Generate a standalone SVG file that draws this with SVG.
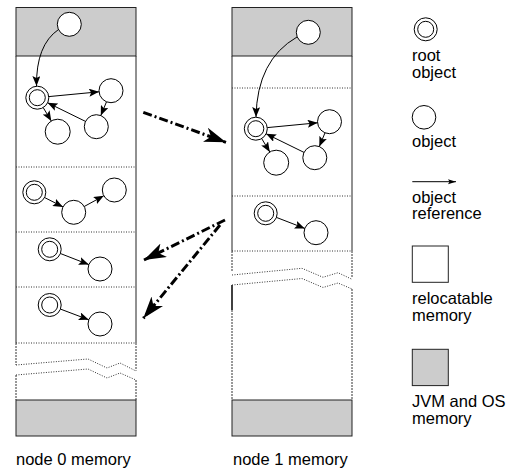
<svg xmlns="http://www.w3.org/2000/svg" width="515" height="471" viewBox="0 0 515 471">
<defs>
<style>
.gray{fill:#cccccc;stroke:#222;stroke-width:1}
.wall{stroke:#222;stroke-width:1;fill:none}
.dwall{stroke:#333;stroke-width:1;stroke-dasharray:2 1;fill:none}
.sep{stroke:#333;stroke-width:1;stroke-dasharray:1 1.5;fill:none}
.obj{fill:#fff;stroke:#000;stroke-width:1}
.ref{stroke:#000;stroke-width:1;fill:none;marker-end:url(#ah)}
.mig{stroke:#000;stroke-width:3;fill:none;stroke-dasharray:9 3 2 3;marker-end:url(#big)}
.t{font-family:"Liberation Sans",Arial,sans-serif;font-size:16.5px;fill:#000}
</style>
<marker id="ah" markerUnits="userSpaceOnUse" markerWidth="10" markerHeight="8" viewBox="0 0 10 8" refX="10" refY="4" orient="auto">
<path d="M0,0 L10,4 L0,8 L2,4 z" fill="#000"/>
</marker>
<marker id="ahs" markerUnits="userSpaceOnUse" markerWidth="8" markerHeight="6" viewBox="0 0 8 6" refX="8" refY="3" orient="auto">
<path d="M0,0.5 L8,3 L0,5.5 L1.5,3 z" fill="#000"/>
</marker>
<marker id="big" markerUnits="userSpaceOnUse" markerWidth="22" markerHeight="15" viewBox="0 0 22 15" refX="22" refY="7.5" orient="auto">
<path d="M0,0 L22,7.5 L0,15 L6,7.5 z" fill="#000"/>
</marker>
</defs>
<rect width="515" height="471" fill="#fff"/>

<g id="node0-memory">
<rect class="gray" x="16" y="7.5" width="120" height="48.5"/>
<rect class="gray" x="16" y="400" width="120" height="36"/>
<path class="wall" d="M16,56 V343 M136,56 V343"/>
<path class="dwall" d="M16,343 V365 M16,375 V400 M136,343 V370.7 M136,380 V400"/>
<path class="sep" d="M16,167 H136 M16,232 H136 M16,287 H136 M16,343 H136"/>
<polyline class="sep" points="16,365 88,359 107,368 120,363 136,371"/>
<polyline class="sep" points="16,375 88,369 107,378 120,373 136,380"/>
<text class="t" x="16" y="465">node 0 memory</text>
</g>

<g id="node1-memory">
<rect class="gray" x="232" y="7.5" width="120" height="48.5"/>
<rect class="gray" x="232" y="400" width="120" height="36"/>
<path class="wall" d="M232,56 V251 M352,56 V251"/>
<path class="dwall" d="M232,251 V272 M232,310 V400 M352,251 V278 M352,289 V400"/>
<path d="M232,285 V310" stroke="#111" stroke-width="1.6"/>
<path class="sep" d="M232,88 H352 M232,196 H352 M232,251 H352"/>
<polyline class="sep" points="232,275 302,268.3 323,277.3 338,272.7 352,279.3"/>
<polyline class="sep" points="232,285 302,278.5 323,287.5 338,283 352,289"/>
<text class="t" x="233" y="465">node 1 memory</text>
</g>

<g id="n0-os-obj"><circle class="obj" cx="69.3" cy="24.3" r="12"/></g>
<g id="n0-root1"><circle class="obj" cx="37.3" cy="97.7" r="11.5"/><circle class="obj" cx="37.3" cy="97.7" r="8"/></g>
<g id="n0-obj1b"><circle class="obj" cx="111" cy="90.7" r="12"/></g>
<g id="n0-obj1c"><circle class="obj" cx="57.7" cy="131.7" r="12.5"/></g>
<g id="n0-obj1d"><circle class="obj" cx="96.3" cy="126.7" r="12"/></g>
<g id="n0-root2"><circle class="obj" cx="34.3" cy="192.3" r="11.5"/><circle class="obj" cx="34.3" cy="192.3" r="8"/></g>
<g id="n0-obj2b"><circle class="obj" cx="73.7" cy="212.3" r="12"/></g>
<g id="n0-obj2c"><circle class="obj" cx="114.3" cy="190" r="12"/></g>
<g id="n0-root3"><circle class="obj" cx="49.7" cy="249.3" r="11.5"/><circle class="obj" cx="49.7" cy="249.3" r="8"/></g>
<g id="n0-obj3b"><circle class="obj" cx="100" cy="269" r="12"/></g>
<g id="n0-root4"><circle class="obj" cx="49.7" cy="305" r="11.5"/><circle class="obj" cx="49.7" cy="305" r="8"/></g>
<g id="n0-obj4b"><circle class="obj" cx="100" cy="324" r="12"/></g>

<g id="n1-os-obj"><circle class="obj" cx="308.3" cy="32.3" r="12"/></g>
<g id="n1-root1"><circle class="obj" cx="255.8" cy="128.7" r="11.5"/><circle class="obj" cx="255.8" cy="128.7" r="8"/></g>
<g id="n1-obj1b"><circle class="obj" cx="329.5" cy="121.7" r="12"/></g>
<g id="n1-obj1c"><circle class="obj" cx="276.2" cy="162.7" r="12.5"/></g>
<g id="n1-obj1d"><circle class="obj" cx="314.8" cy="157.7" r="12"/></g>
<g id="n1-root2"><circle class="obj" cx="265.7" cy="213.3" r="11.5"/><circle class="obj" cx="265.7" cy="213.3" r="8"/></g>
<g id="n1-obj2b"><circle class="obj" cx="316" cy="232.7" r="12"/></g>

<g id="legend-root"><circle class="obj" cx="425.7" cy="29.3" r="11.5"/><circle class="obj" cx="425.7" cy="29.3" r="8"/>
<text class="t" x="412" y="60.5">root</text><text class="t" x="412" y="77.5">object</text></g>
<g id="legend-object"><circle class="obj" cx="424" cy="117.3" r="11.8"/>
<text class="t" x="412" y="146.7">object</text></g>
<g id="legend-reference"><line x1="412.3" y1="181.7" x2="456" y2="181.7" stroke="#000" stroke-width="1" marker-end="url(#ahs)"/>
<text class="t" x="412" y="202.7">object</text><text class="t" x="412" y="219.3">reference</text></g>
<g id="legend-relocatable"><rect x="412.3" y="246" width="36" height="36.3" fill="#fff" stroke="#222"/>
<text class="t" x="412" y="304">relocatable</text><text class="t" x="412" y="320.7">memory</text></g>
<g id="legend-jvm"><rect class="gray" x="412.3" y="349.3" width="36" height="36.3"/>
<text class="t" x="412" y="407.3">JVM and OS</text><text class="t" x="412" y="424">memory</text></g>

<g id="connectors">
<path class="ref" d="M58.5,29.5 Q36,45 36.5,86"/>
<line class="ref" x1="48.7" y1="96.6" x2="99.1" y2="91.8"/>
<line class="ref" x1="43.2" y1="107.6" x2="51.3" y2="121"/>
<line class="ref" x1="106.5" y1="101.8" x2="100.8" y2="115.6"/>
<line class="ref" x1="85.5" y1="121.4" x2="47.6" y2="102.8"/>
<line class="ref" x1="44.5" y1="197.5" x2="63" y2="206.9"/>
<line class="ref" x1="84.2" y1="206.5" x2="103.8" y2="195.8"/>
<line class="ref" x1="60.4" y1="253.5" x2="88.8" y2="264.6"/>
<line class="ref" x1="60.5" y1="309.1" x2="88.8" y2="319.8"/>

<path class="ref" d="M297,37 Q257,60 256,117"/>
<line class="ref" x1="267.3" y1="127.6" x2="317.6" y2="122.8"/>
<line class="ref" x1="261.7" y1="138.6" x2="269.8" y2="152"/>
<line class="ref" x1="325" y1="132.8" x2="319.3" y2="146.6"/>
<line class="ref" x1="304" y1="152.4" x2="266.1" y2="133.8"/>
<line class="ref" x1="276.4" y1="217.4" x2="304.8" y2="228.4"/>

<line class="mig" x1="143.3" y1="112.3" x2="226" y2="142.3"/>
<line class="mig" x1="225" y1="220" x2="144" y2="260"/>
<line class="mig" x1="220" y1="225" x2="143.3" y2="318.3"/>
</g>
</svg>
